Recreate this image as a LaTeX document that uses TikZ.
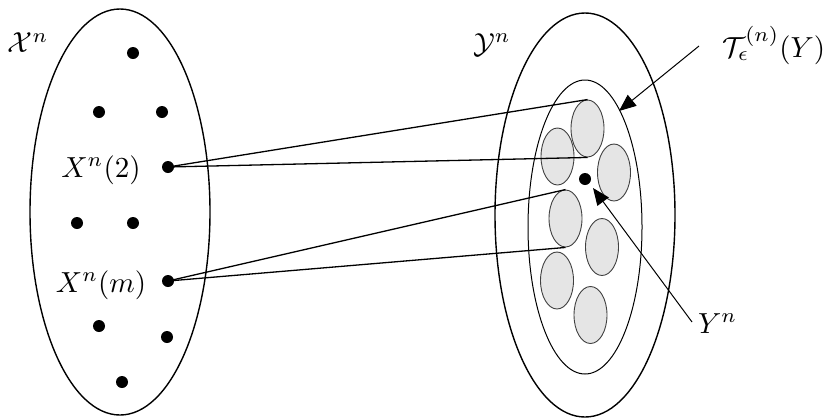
\documentclass[tikz,border=0pt]{standalone}
\usetikzlibrary{shapes.geometric,arrows.meta}
\newcommand{\bigtxt}[1]{\scalebox{2.9}{#1}}
\begin{document}
\begin{tikzpicture}[x=1pt,y=-1pt,
  bigset/.style={draw=black,line width=1.4pt,ellipse,inner sep=0pt},
  typset/.style={draw=black,line width=1pt,ellipse,inner sep=0pt},
  ball/.style={draw=black!75,fill=black!10,line width=0.9pt,ellipse,inner sep=0pt,minimum width=33pt,minimum height=57pt},
  pt/.style={circle,fill=black,inner sep=0pt,minimum size=12pt},
  lbl/.style={inner sep=0pt},
  link/.style={line width=1.3pt},
  pointer/.style={line width=1pt,-{Triangle[length=17pt,width=14pt]}}]
\useasboundingbox (0,0) rectangle (826,418);
% sets
\node[bigset,minimum width=180pt,minimum height=406pt] (Xset) at (120,212) {};
\node[bigset,minimum width=180pt,minimum height=404pt] (Yset) at (585,215) {};
\node[typset,minimum width=114pt,minimum height=294pt] (T) at (585,227) {};
% balls
\node[ball] (g1) at (587.5,128.5) {};
\node[ball] (g2) at (557.5,156.5) {};
\node[ball] (g3) at (614,172.5) {};
\node[ball] (g4) at (565.5,218.5) {};
\node[ball] (g5) at (602,247) {};
\node[ball] (g6) at (557,280.5) {};
\node[ball] (g7) at (590.5,315) {};
% points in X^n
\node[pt] (p1) at (133,53) {};
\node[pt] (p2) at (99,112) {};
\node[pt] (p3) at (162,112) {};
\node[pt] (x2) at (168,167) {};
\node[pt] (p4) at (77,223) {};
\node[pt] (p5) at (133,223) {};
\node[pt] (xm) at (168,281) {};
\node[pt] (p6) at (99,326) {};
\node[pt] (p7) at (167,337) {};
\node[pt] (p8) at (122,382) {};
% Y^n point
\node[pt] (y) at (585,179) {};
% links
\draw[link] (x2.center) -- (g1.north);
\draw[link] (x2.center) -- (g1.south);
\draw[link] (xm.center) -- (g4.north);
\draw[link] (xm.center) -- (g4.south);
% labels
\node[lbl] (lX) at (28,43) {\bigtxt{$\mathcal{X}^n$}};
\node[lbl] (lY) at (492,45) {\bigtxt{$\mathcal{Y}^n$}};
\node[lbl,anchor=base] (l2) at (101,177) {\bigtxt{$X^n(2)$}};
\node[lbl,anchor=base] (lm) at (101,292) {\bigtxt{$X^n(m)$}};
\node[lbl,anchor=base west] (lT) at (722,57) {\bigtxt{$\mathcal{T}_\epsilon^{(n)}(Y)$}};
\node[lbl,anchor=base west] (lYn) at (698,333) {\bigtxt{$Y^n$}};
% pointers
\coordinate (tstart) at (699,46);
\coordinate (ystart) at (692,322);
\draw[pointer] (tstart) -- (619,111);
\draw[pointer] (ystart) -- (593,188);
\end{tikzpicture}
\end{document}
